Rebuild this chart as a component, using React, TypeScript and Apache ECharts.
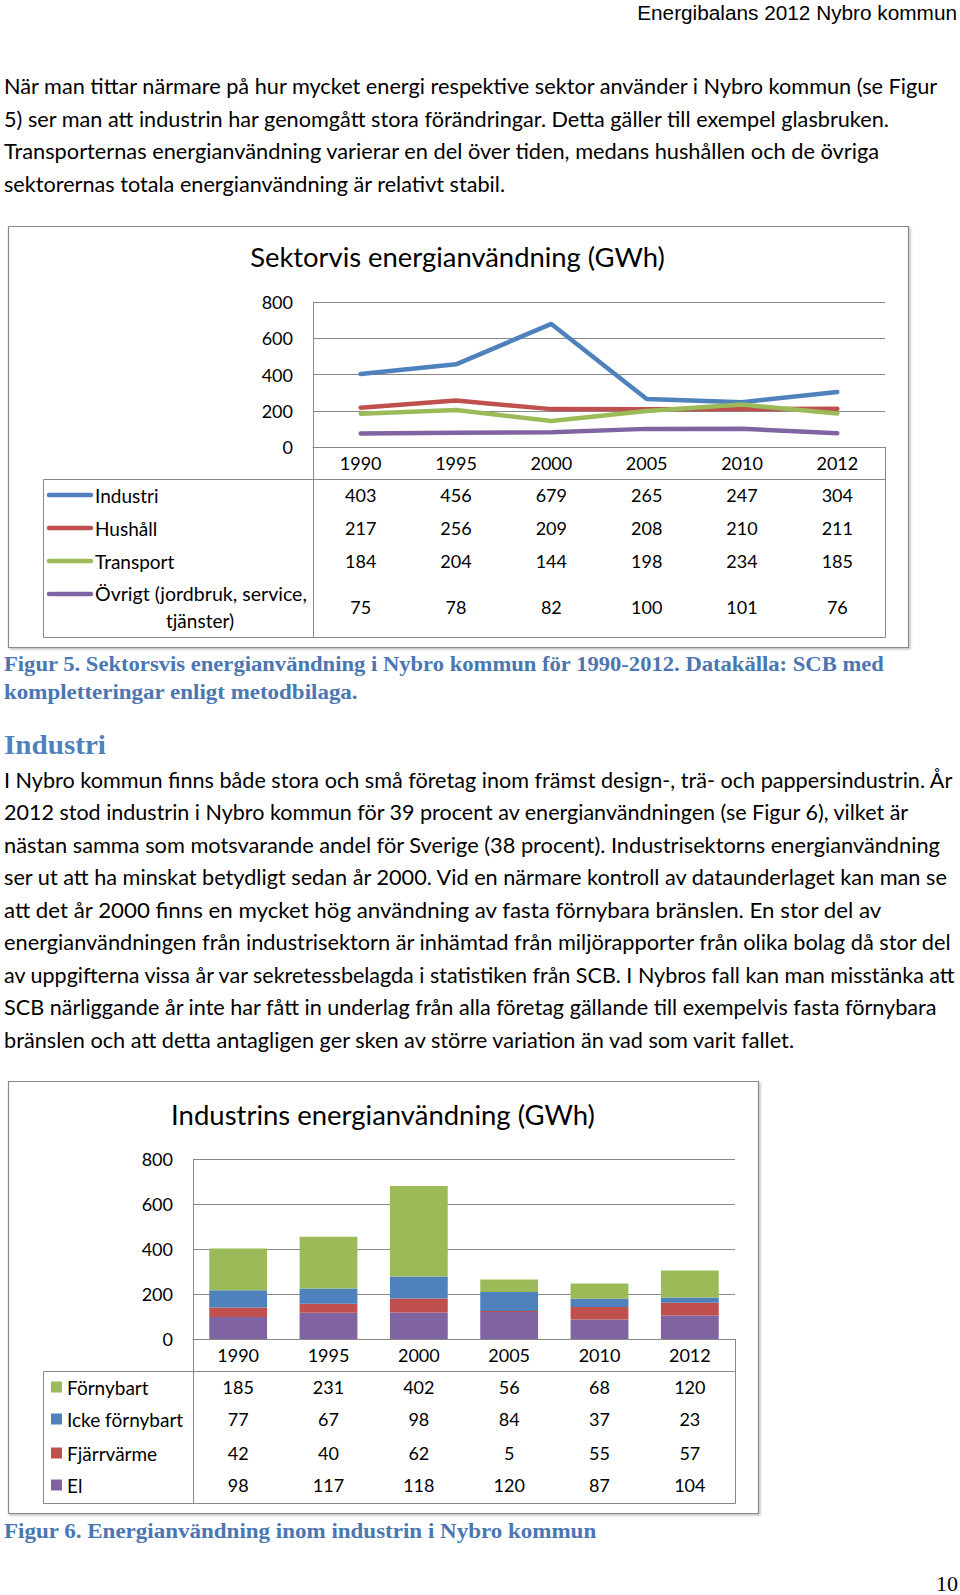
import React, { useEffect, useRef } from 'react';
import * as echarts from 'echarts';

// ---------------- DATA ----------------
const years = ['1990', '1995', '2000', '2005', '2010', '2012'];

const sectorNames = ['Industri', 'Hushåll', 'Transport', 'Övrigt (jordbruk, service, tjänster)'];
const industri = [403, 456, 679, 265, 247, 304];
const hushall = [217, 256, 209, 208, 210, 211];
const transport = [184, 204, 144, 198, 234, 185];
const ovrigt = [75, 78, 82, 100, 101, 76];

const energyNames = ['Förnybart', 'Icke förnybart', 'Fjärrvärme', 'El'];
const fornybart = [185, 231, 402, 56, 68, 120];
const ickeFornybart = [77, 67, 98, 84, 37, 23];
const fjarrvarme = [42, 40, 62, 5, 55, 57];
const el = [98, 117, 118, 120, 87, 104];

const yMin = 0;
const yMax = 800;
const yStep = 200;

// ---------------- TEXTS ----------------
const headerText = 'Energibalans 2012 Nybro kommun';
const para1 = [
  'När man tittar närmare på hur mycket energi respektive sektor använder i Nybro kommun (se Figur',
  '5) ser man att industrin har genomgått stora förändringar. Detta gäller till exempel glasbruken.',
  'Transporternas energianvändning varierar en del över tiden, medans hushållen och de övriga',
  'sektorernas totala energianvändning är relativt stabil.',
];
const chart1Title = 'Sektorvis energianvändning (GWh)';
const caption5 = [
  'Figur 5. Sektorsvis energianvändning i Nybro kommun för 1990-2012. Datakälla: SCB med',
  'kompletteringar enligt metodbilaga.',
];
const headingText = 'Industri';
const para2 = [
  'I Nybro kommun finns både stora och små företag inom främst design-, trä- och pappersindustrin. År',
  '2012 stod industrin i Nybro kommun för 39 procent av energianvändningen (se Figur 6), vilket är',
  'nästan samma som motsvarande andel för Sverige (38 procent). Industrisektorns energianvändning',
  'ser ut att ha minskat betydligt sedan år 2000. Vid en närmare kontroll av dataunderlaget kan man se',
  'att det år 2000 finns en mycket hög användning av fasta förnybara bränslen. En stor del av',
  'energianvändningen från industrisektorn är inhämtad från miljörapporter från olika bolag då stor del',
  'av uppgifterna vissa år var sekretessbelagda i statistiken från SCB. I Nybros fall kan man misstänka att',
  'SCB närliggande år inte har fått in underlag från alla företag gällande till exempelvis fasta förnybara',
  'bränslen och att detta antagligen ger sken av större variation än vad som varit fallet.',
];
const chart2Title = 'Industrins energianvändning (GWh)';
const caption6 = 'Figur 6. Energianvändning inom industrin i Nybro kommun';
const pageNumber = '10';

// ---------------- STYLE / LAYOUT ----------------
const C_BLUE = '#4F81BD';
const C_RED = '#C0504D';
const C_GREEN = '#9BBB59';
const C_PURPLE = '#8064A2';
const C_GRID = '#888888';
const C_CAPTION = '#4A76B2';

const SANS = 'Lato, "Noto Sans", sans-serif';
const SERIF = '"Liberation Serif", "DejaVu Serif", serif';
const NARROW = '"Liberation Sans Narrow", "Liberation Sans", sans-serif';

const BODY_SIZE = 21.5;
const P1_Y0 = 86.5;
const P2_Y0 = 780;
const LINE_STEP = 32.5;
const TEXT_X = 4;
const P1_RIGHT = [940, 891, 881, 506];
const P2_RIGHT = [954, 911, 941, 950, 883, 953, 957, 938, 797];

const G1 = { left: 313, top: 302, right: 885, bottom: 447 };
const G2 = { left: 193, top: 1159, right: 735, bottom: 1339 };
const ROWS1 = [16, 48, 81, 114, 160]; // year row + 4 value rows (offset from axis)
const ROWS2 = [16, 48, 80, 114, 146];

let measureCtx: CanvasRenderingContext2D | null = null;
function fitScale(text: string, size: number, family: string, weight: string, target?: number) {
  if (!target) return 1;
  if (!measureCtx) measureCtx = document.createElement('canvas').getContext('2d');
  if (!measureCtx) return 1;
  measureCtx.font = `${weight} ${size}px ${family}`;
  const w = measureCtx.measureText(text).width;
  if (!w) return 1;
  return Math.min(1.3, Math.max(0.7, target / w));
}

function textEl(
  text: string,
  x: number,
  y: number,
  o: { size: number; family?: string; weight?: string; color?: string; align?: string; target?: number }
) {
  const family = o.family || SANS;
  const weight = o.weight || 'normal';
  return {
    type: 'text',
    x,
    y,
    silent: true,
    z: 20,
    scaleX: fitScale(text, o.size, family, weight, o.target),
    style: {
      text,
      fontSize: o.size,
      fontFamily: family,
      fontWeight: weight,
      fill: o.color || '#000',
      align: o.align || 'left',
      verticalAlign: 'middle',
    },
  };
}

function lineEl(x1: number, y1: number, x2: number, y2: number, color: string, width: number, cap = 'butt') {
  return {
    type: 'line',
    silent: true,
    z: 15,
    shape: { x1, y1, x2, y2 },
    style: { stroke: color, lineWidth: width, lineCap: cap },
  };
}

function rectEl(x: number, y: number, w: number, h: number, stroke: string, fill = 'none', lw = 1) {
  return {
    type: 'rect',
    silent: true,
    z: 14,
    shape: { x, y, width: w, height: h },
    style: { stroke, fill, lineWidth: lw },
  };
}

function buildOption() {
  const graphic: any[] = [];

  // Page header / paragraphs
  graphic.push(textEl(headerText, 957, 12, { size: 21, family: NARROW, align: 'right', target: 320 }));
  para1.forEach((t, i) =>
    graphic.push(textEl(t, TEXT_X, P1_Y0 + i * LINE_STEP, { size: BODY_SIZE, target: P1_RIGHT[i] - TEXT_X }))
  );
  para2.forEach((t, i) =>
    graphic.push(textEl(t, TEXT_X, P2_Y0 + i * LINE_STEP, { size: BODY_SIZE, target: P2_RIGHT[i] - TEXT_X }))
  );

  // Chart 1 frame, title, table
  graphic.push({
    ...rectEl(8.5, 226.5, 900, 421, '#8a8a8a', '#fff', 1.2),
    z: 0,
    style: { stroke: '#8a8a8a', fill: '#fff', lineWidth: 1.2, shadowBlur: 2, shadowOffsetX: 1.5, shadowOffsetY: 1.5, shadowColor: 'rgba(0,0,0,0.25)' },
  });
  graphic.push(textEl(chart1Title, 457.5, 257, { size: 27, align: 'center', target: 415 }));
  graphic.push(lineEl(G1.left + 0.5, G1.bottom, G1.left + 0.5, 637, C_GRID, 1));
  graphic.push(lineEl(G1.right + 0.5, G1.bottom, G1.right + 0.5, 637, C_GRID, 1));
  graphic.push(rectEl(43.5, 479.5, G1.right - 43, 158, C_GRID));
  const legend1Colors = [C_BLUE, C_RED, C_GREEN, C_PURPLE];
  const legend1Y = [495, 528, 561, 594];
  legend1Colors.forEach((c, i) => {
    graphic.push(lineEl(49, legend1Y[i], 91, legend1Y[i], c, 4.5, 'round'));
  });
  graphic.push(textEl(sectorNames[0], 95, legend1Y[0], { size: 19 }));
  graphic.push(textEl(sectorNames[1], 95, legend1Y[1], { size: 19 }));
  graphic.push(textEl(sectorNames[2], 95, legend1Y[2], { size: 19 }));
  graphic.push(textEl('Övrigt (jordbruk, service,', 95, legend1Y[3], { size: 19, target: 212 }));
  graphic.push(textEl('tjänster)', 200, 620, { size: 19, align: 'center' }));

  // Caption 5 + heading
  graphic.push(textEl(caption5[0], TEXT_X, 664, { size: 21, family: SERIF, weight: 'bold', color: C_CAPTION, target: 885 - TEXT_X }));
  graphic.push(textEl(caption5[1], TEXT_X, 691.5, { size: 21, family: SERIF, weight: 'bold', color: C_CAPTION, target: 358 - TEXT_X }));
  graphic.push(textEl(headingText, TEXT_X, 745, { size: 28, family: SERIF, weight: 'bold', color: C_BLUE, target: 106 - TEXT_X }));

  // Chart 2 frame, title, table
  graphic.push({
    ...rectEl(8.5, 1081.5, 750, 432, '#8a8a8a', '#fff', 1.2),
    z: 0,
    style: { stroke: '#8a8a8a', fill: '#fff', lineWidth: 1.2, shadowBlur: 2, shadowOffsetX: 1.5, shadowOffsetY: 1.5, shadowColor: 'rgba(0,0,0,0.25)' },
  });
  graphic.push(textEl(chart2Title, 383, 1115, { size: 27, align: 'center', target: 424 }));
  graphic.push(lineEl(G2.left + 0.5, G2.bottom, G2.left + 0.5, 1503, C_GRID, 1));
  graphic.push(lineEl(G2.right + 0.5, G2.bottom, G2.right + 0.5, 1503, C_GRID, 1));
  graphic.push(rectEl(43.5, 1371.5, G2.right - 43, 132, C_GRID));
  const legend2Colors = [C_GREEN, C_BLUE, C_RED, C_PURPLE];
  const legend2Y = [1387, 1419, 1453, 1485];
  legend2Colors.forEach((c, i) => {
    graphic.push({ ...rectEl(51, legend2Y[i] - 5.5, 11, 11, 'none', c, 0), style: { fill: c } });
    graphic.push(textEl(energyNames[i], 67, legend2Y[i], { size: 19 }));
  });

  graphic.push(textEl(caption6, TEXT_X, 1530.5, { size: 21, family: SERIF, weight: 'bold', color: C_CAPTION, target: 597 - TEXT_X }));
  graphic.push(textEl(pageNumber, 958, 1583.5, { size: 22, family: SERIF, align: 'right' }));

  // Axes
  const labelBase = { fontFamily: SANS, fontSize: 18, color: '#000' };
  const rowAxis = (gridIndex: number, margin: number, values: number[] | null, showLine: boolean) => ({
    type: 'category',
    gridIndex,
    position: 'bottom',
    data: years,
    boundaryGap: true,
    axisLine: { show: showLine, onZero: false, lineStyle: { color: C_GRID, width: 1 } },
    axisTick: { show: false },
    splitLine: { show: false },
    axisLabel: {
      ...labelBase,
      interval: 0,
      margin,
      verticalAlign: 'middle',
      formatter: values ? (_v: string, i: number) => String(values[i]) : undefined,
    },
  });

  const table1 = [industri, hushall, transport, ovrigt];
  const table2 = [fornybart, ickeFornybart, fjarrvarme, el];

  const xAxis: any[] = [rowAxis(0, ROWS1[0], null, true)];
  table1.forEach((arr, i) => xAxis.push(rowAxis(0, ROWS1[i + 1], arr, false)));
  xAxis.push(rowAxis(1, ROWS2[0], null, true));
  table2.forEach((arr, i) => xAxis.push(rowAxis(1, ROWS2[i + 1], arr, false)));

  const yAxisBase = (gridIndex: number) => ({
    type: 'value',
    gridIndex,
    min: yMin,
    max: yMax,
    interval: yStep,
    axisLine: { show: true, lineStyle: { color: C_GRID, width: 1 } },
    axisTick: { show: false },
    splitLine: { show: true, lineStyle: { color: C_GRID, width: 1 } },
    axisLabel: { ...labelBase, margin: 20 },
  });

  const lineSeries = (name: string, data: number[], color: string) => ({
    type: 'line',
    name,
    data,
    xAxisIndex: 0,
    yAxisIndex: 0,
    symbol: 'none',
    showSymbol: false,
    lineStyle: { width: 4.5, color, cap: 'round', join: 'round' },
    itemStyle: { color },
  });

  const barSeries = (name: string, data: number[], color: string) => ({
    type: 'bar',
    name,
    data,
    stack: 'industri',
    xAxisIndex: 5,
    yAxisIndex: 1,
    barCategoryGap: '36%',
    itemStyle: { color },
  });

  return {
    animation: false,
    backgroundColor: '#fff',
    textStyle: { fontFamily: SANS },
    grid: [
      { left: G1.left, top: G1.top, width: G1.right - G1.left, height: G1.bottom - G1.top, outerBoundsMode: 'none', containLabel: false },
      { left: G2.left, top: G2.top, width: G2.right - G2.left, height: G2.bottom - G2.top, outerBoundsMode: 'none', containLabel: false },
    ],
    xAxis,
    yAxis: [yAxisBase(0), yAxisBase(1)],
    series: [
      lineSeries(sectorNames[0], industri, C_BLUE),
      lineSeries(sectorNames[1], hushall, C_RED),
      lineSeries(sectorNames[2], transport, C_GREEN),
      lineSeries(sectorNames[3], ovrigt, C_PURPLE),
      barSeries(energyNames[3], el, C_PURPLE),
      barSeries(energyNames[2], fjarrvarme, C_RED),
      barSeries(energyNames[1], ickeFornybart, C_BLUE),
      barSeries(energyNames[0], fornybart, C_GREEN),
    ],
    graphic: { elements: graphic },
  };
}

export default function App() {
  const ref = useRef<HTMLDivElement>(null);
  useEffect(() => {
    if (!ref.current) return;
    const chart = echarts.init(ref.current, null, { renderer: 'svg', width: 960, height: 1595 });
    chart.setOption(buildOption() as any);
    return () => chart.dispose();
  }, []);
  return (
    <div
      ref={ref}
      style={{ position: 'absolute', left: 0, top: 0, width: 960, height: 1595, background: '#fff' }}
    />
  );
}
